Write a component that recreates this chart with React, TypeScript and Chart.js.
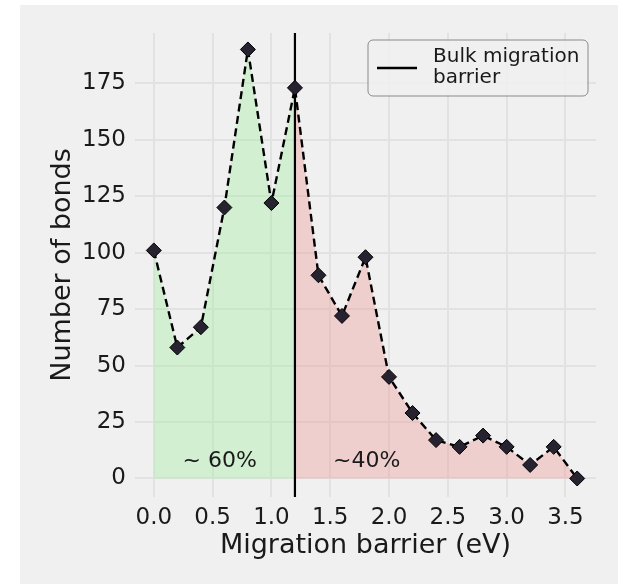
import { useEffect, useRef } from 'react';
import { Chart, registerables } from 'chart.js';

Chart.register(...registerables);

const barrierValues = [0.0, 0.2, 0.4, 0.6, 0.8, 1.0, 1.2, 1.4, 1.6, 1.8, 2.0, 2.2, 2.4, 2.6, 2.8, 3.0, 3.2, 3.4, 3.6];
const bondCounts = [101, 58, 67, 120, 190, 122, 173, 90, 72, 98, 45, 29, 17, 14, 19, 14, 6, 14, 0];
const bulkBarrier = 1.2;
const xTickValues = [0, 0.5, 1.0, 1.5, 2.0, 2.5, 3.0, 3.5];
const yTickValues = [0, 25, 50, 75, 100, 125, 150, 175];
const annotationTexts = ['~ 60%', '~40%'];
const annotationX = [0.56, 1.81];
const annotationY = [7.8, 7.8];
const legendLines = ['Bulk migration', 'barrier'];

const FONT = '"DejaVu Sans", sans-serif';
const TEXT = '#1a1a1a';

export default function App() {
  const ref = useRef<HTMLCanvasElement | null>(null);

  useEffect(() => {
    if (!ref.current) return;
    const points = barrierValues.map((x, i) => ({ x, y: bondCounts[i] }));
    const lowPts = points.filter((p) => p.x <= bulkBarrier + 1e-9);
    const highPts = points.filter((p) => p.x >= bulkBarrier - 1e-9);

    const overlay = {
      id: 'overlay',
      afterDatasetDraw(chart: any, args: any) {
        if (args.index !== 1) return;
        const { ctx, chartArea, scales } = chart;
        const xs = scales.x;
        const ys = scales.y;
        ctx.save();
        const vx = xs.getPixelForValue(bulkBarrier);
        ctx.strokeStyle = '#000';
        ctx.lineWidth = 2.2;
        ctx.beginPath();
        ctx.moveTo(vx, chartArea.top);
        ctx.lineTo(vx, chartArea.bottom);
        ctx.stroke();
        ctx.fillStyle = TEXT;
        ctx.font = `22px ${FONT}`;
        ctx.textAlign = 'center';
        ctx.textBaseline = 'middle';
        annotationTexts.forEach((t, i) => {
          ctx.fillText(t, xs.getPixelForValue(annotationX[i]), ys.getPixelForValue(annotationY[i]));
        });
        ctx.restore();
      },
      afterDraw(chart: any) {
        const { ctx } = chart;
        ctx.save();
        const bx = 348, by = 35, bw = 220, bh = 56, r = 5;
        ctx.beginPath();
        ctx.moveTo(bx + r, by);
        ctx.arcTo(bx + bw, by, bx + bw, by + bh, r);
        ctx.arcTo(bx + bw, by + bh, bx, by + bh, r);
        ctx.arcTo(bx, by + bh, bx, by, r);
        ctx.arcTo(bx, by, bx + bw, by, r);
        ctx.closePath();
        ctx.fillStyle = 'rgba(240,240,240,0.85)';
        ctx.fill();
        ctx.strokeStyle = '#8a8a8a';
        ctx.lineWidth = 1;
        ctx.stroke();
        ctx.strokeStyle = '#000';
        ctx.lineWidth = 2.5;
        ctx.beginPath();
        ctx.moveTo(357, 63);
        ctx.lineTo(397, 63);
        ctx.stroke();
        ctx.fillStyle = TEXT;
        ctx.font = `20px ${FONT}`;
        ctx.textAlign = 'left';
        ctx.textBaseline = 'middle';
        ctx.fillText(legendLines[0], 413, 52);
        ctx.fillText(legendLines[1], 413, 73);
        ctx.restore();
      },
    };

    const chart = new Chart(ref.current, {
      type: 'line',
      data: {
        datasets: [
          {
            label: 'bonds',
            data: points,
            borderColor: '#000',
            borderWidth: 2.4,
            borderDash: [8, 4.5],
            pointStyle: 'rectRot',
            pointRadius: 7.5,
            pointBackgroundColor: '#27222f',
            pointBorderColor: '#000',
            pointBorderWidth: 1,
            fill: false,
            tension: 0,
          },
          {
            label: 'low',
            data: lowPts,
            borderWidth: 0,
            pointRadius: 0,
            backgroundColor: 'rgba(144,238,144,0.3)',
            fill: 'origin',
            tension: 0,
          },
          {
            label: 'high',
            data: highPts,
            borderWidth: 0,
            pointRadius: 0,
            backgroundColor: 'rgba(240,128,128,0.3)',
            fill: 'origin',
            tension: 0,
          },
        ],
      },
      options: {
        animation: false,
        responsive: false,
        layout: { padding: { left: 0, top: 28, right: 22, bottom: 0 } },
        plugins: { legend: { display: false }, tooltip: { enabled: false } },
        scales: {
          x: {
            type: 'linear',
            min: -0.16,
            max: 3.76,
            afterBuildTicks: (s: any) => {
              s.ticks = xTickValues.map((v) => ({ value: v }));
            },
            afterFit: (s: any) => {
              s.height = 87;
            },
            grid: { color: '#e2e2e2', lineWidth: 2, drawTicks: false },
            border: { display: false },
            ticks: {
              padding: 7,
              color: TEXT,
              font: { family: FONT, size: 23 },
              callback: (v: any) => Number(v).toFixed(1),
              maxRotation: 0,
            },
            title: {
              display: true,
              text: 'Migration barrier (eV)',
              color: TEXT,
              font: { family: FONT, size: 27 },
              padding: { top: 0, bottom: 22 },
            },
          },
          y: {
            type: 'linear',
            min: -8.2,
            max: 197.3,
            afterBuildTicks: (s: any) => {
              s.ticks = yTickValues.map((v) => ({ value: v }));
            },
            afterFit: (s: any) => {
              s.width = 115;
            },
            grid: { color: '#e2e2e2', lineWidth: 2, drawTicks: false },
            border: { display: false },
            ticks: {
              padding: 9,
              color: TEXT,
              font: { family: FONT, size: 23 },
              callback: (v: any) => String(v),
            },
            title: {
              display: true,
              text: 'Number of bonds',
              color: TEXT,
              font: { family: FONT, size: 27 },
              padding: { top: 27, bottom: 0 },
            },
          },
        },
      },
      plugins: [overlay],
    });
    return () => chart.destroy();
  }, []);

  return (
    <div style={{ position: 'absolute', left: 20, top: 5, width: 598, height: 579, background: '#f0f0f0' }}>
      <canvas ref={ref} width={598} height={579} style={{ display: 'block' }} />
    </div>
  );
}
